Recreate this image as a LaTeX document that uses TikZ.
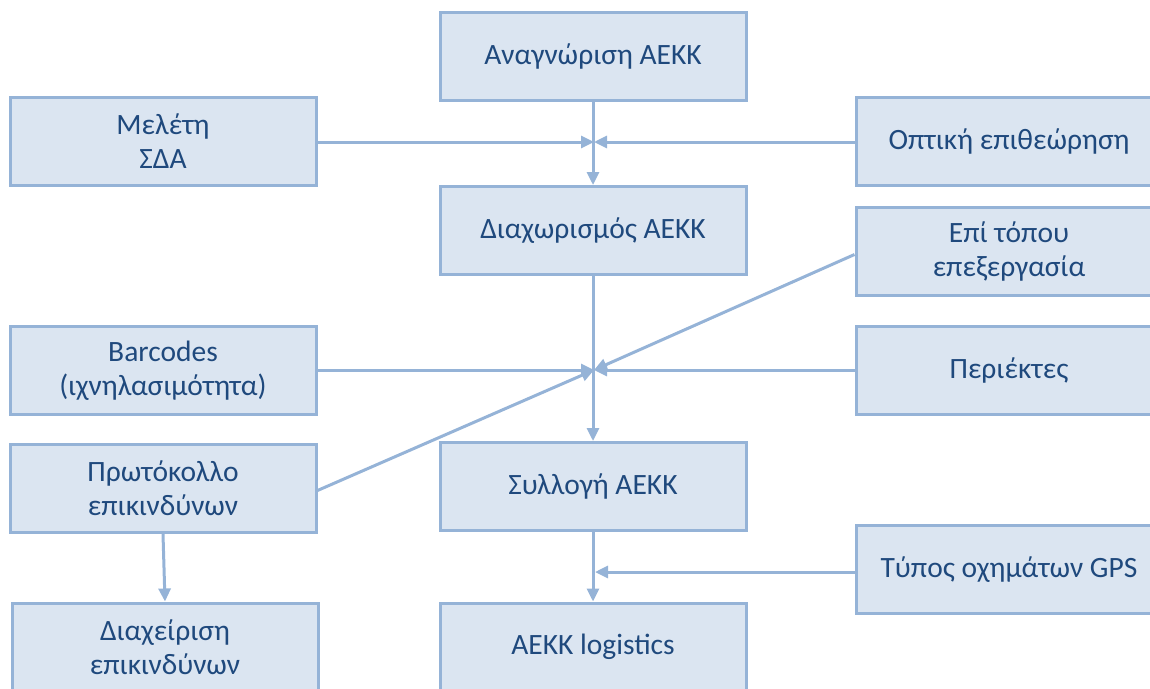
\documentclass[tikz,border=0pt]{standalone}
\usepackage{fontspec}
\setmainfont{Carlito}
\usetikzlibrary{arrows.meta}
\definecolor{bord}{HTML}{95B3D7}
\definecolor{boxfill}{HTML}{DBE5F1}
\definecolor{txt}{HTML}{1F497D}
\tikzset{
  box/.style={draw=bord, fill=boxfill, line width=3pt, minimum width=306pt, minimum height=88pt,
    inner sep=0pt, align=center, text=txt, font=\fontsize{29.5}{34}\selectfont},
  conn/.style={draw=bord, line width=3pt},
  arr/.style={conn, -{Triangle[length=13pt,width=12pt]}}
}
\begin{document}
\begin{tikzpicture}[x=1pt,y=-1pt]
\clip (0,0) rectangle (1150,688);
\node[box] (anag) at (593,56) {Αναγνώριση ΑΕΚΚ};
\node[box] (melet) at (163,141.5) {Μελέτη\\ΣΔΑ};
\node[box] (opt) at (1009,141.5) {Οπτική επιθεώρηση};
\node[box] (diax) at (593,230.5) {Διαχωρισμός ΑΕΚΚ};
\node[box] (epi) at (1009,251.5) {Επί τόπου\\επεξεργασία};
\node[box] (bar) at (163,370.5) {Barcodes\\(ιχνηλασιμότητα)};
\node[box] (per) at (1009,370.5) {Περιέκτες};
\node[box] (prot) at (163,488.5) {Πρωτόκολλο\\επικινδύνων};
\node[box] (syl) at (593,486.5) {Συλλογή ΑΕΚΚ};
\node[box] (typ) at (1009,569.5) {Τύπος οχημάτων GPS};
\node[box] (diaxep) at (165,647) {Διαχείριση\\επικινδύνων};
\node[box] (log) at (593,647) {ΑΕΚΚ logistics};
\coordinate (j1) at (594,142);
\coordinate (j2) at (594,370);
\coordinate (j3) at (595,572);
% top junction
\draw[arr] (anag.south) -- (diax.north);
\draw[arr] (melet.east |- j1) -- (j1);
\draw[arr] (opt.west |- j1) -- (j1);
% middle junction
\draw[arr] (diax.south) -- (syl.north);
\draw[arr] (bar.east |- j2) -- (j2);
\draw[arr] (per.west |- j2) -- (j2);
\draw[arr] (prot.east) ++(0,2) -- (j2);
\draw[arr] ([yshift=-3pt]epi.west) -- (j2);
% bottom junction
\draw[arr] (syl.south) -- (log.north);
\draw[arr] (typ.west |- j3) -- (j3);
% left
\draw[arr] (prot.south) -- (diaxep.north);
\end{tikzpicture}
\end{document}
